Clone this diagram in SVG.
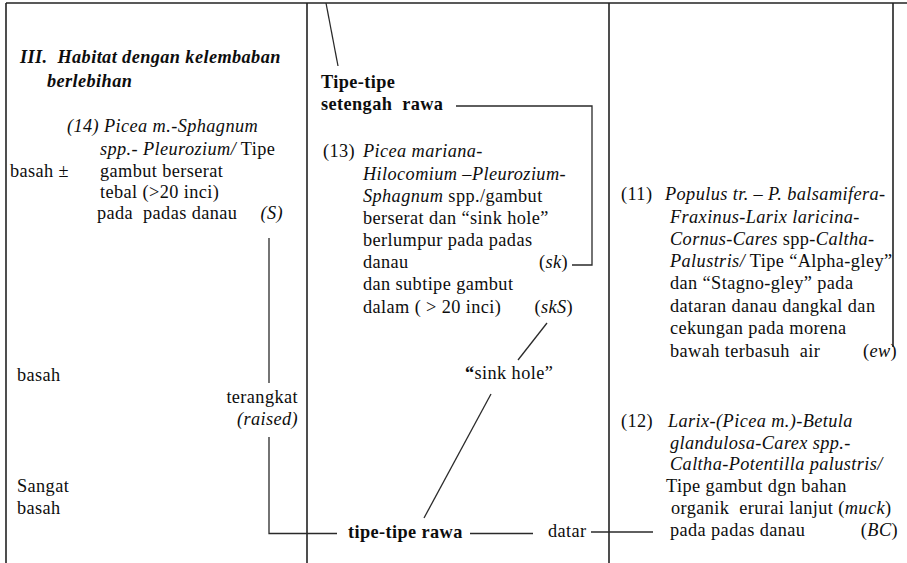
<svg xmlns="http://www.w3.org/2000/svg" width="907" height="563" viewBox="0 0 907 563">
  <style>
    .t { font-family: "Liberation Serif", "Times New Roman", serif; font-size: 18.3px; fill: #0d0d0d; letter-spacing: 0.4px; white-space: pre; }
    .i { font-style: italic; }
    .b { font-weight: bold; }
    .e { text-anchor: end; }
    .frame { stroke: #222; stroke-width: 1.6; fill: none; }
    .ln { stroke: #2a2a2a; stroke-width: 1.3; fill: none; }
  </style>
  <rect width="907" height="563" fill="#fff"/>

  <!-- table frame and column dividers -->
  <g id="frame">
    <line class="frame" x1="6" y1="3" x2="907" y2="3"/>
    <line class="frame" x1="6" y1="3" x2="6" y2="563"/>
    <line class="frame" x1="307" y1="3" x2="307" y2="563"/>
    <line class="frame" x1="609" y1="3" x2="609" y2="563"/>
    <line class="frame" x1="893" y1="3" x2="893" y2="347"/>
  </g>

  <!-- connectors -->
  <g id="connectors">
    <line class="ln" x1="326" y1="3" x2="338" y2="66"/>
    <polyline class="ln" points="456,106 592,106 592,265 572,265"/>
    <line class="ln" x1="269" y1="238" x2="269" y2="383"/>
    <polyline class="ln" points="269,437 269,533.5 337,533.5"/>
    <line class="ln" x1="470" y1="533.5" x2="533" y2="533.5"/>
    <line class="ln" x1="591" y1="532" x2="653" y2="532"/>
    <line class="ln" x1="547" y1="323" x2="518" y2="360"/>
    <line class="ln" x1="491" y1="394" x2="424" y2="518"/>
  </g>

  <!-- left column -->
  <g id="heading">
    <text class="t b i" x="20" y="63">III.  Habitat dengan kelembaban</text>
    <text class="t b i" x="47" y="87">berlebihan</text>
  </g>
  <g id="type-14">
    <text class="t i" x="67" y="132">(14) Picea m.-Sphagnum</text>
    <text class="t" x="100" y="155"><tspan class="i">spp.- Pleurozium/</tspan> Tipe</text>
    <text class="t" x="100" y="177">gambut berserat</text>
    <text class="t" x="100" y="198">tebal (&gt;20 inci)</text>
    <text class="t" x="97" y="219">pada  padas danau</text>
    <text class="t i e" x="283" y="219">(S)</text>
  </g>
  <g id="moisture">
    <text class="t" x="10" y="177">basah ±</text>
    <text class="t" x="17" y="381">basah</text>
    <text class="t" x="17" y="492">Sangat</text>
    <text class="t" x="17" y="514">basah</text>
  </g>
  <g id="raised">
    <text class="t e" x="298" y="403">terangkat</text>
    <text class="t i e" x="298" y="425">(raised)</text>
  </g>

  <!-- middle column -->
  <g id="semi-swamp">
    <text class="t b" x="321" y="88">Tipe-tipe</text>
    <text class="t b" x="321" y="110">setengah  rawa</text>
  </g>
  <g id="type-13">
    <text class="t" x="323" y="157">(13)</text>
    <text class="t i" x="363" y="157">Picea mariana-</text>
    <text class="t i" x="363" y="180">Hilocomium –Pleurozium-</text>
    <text class="t" x="363" y="202"><tspan class="i">Sphagnum</tspan> spp./gambut</text>
    <text class="t" x="363" y="224">berserat dan “sink hole”</text>
    <text class="t" x="363" y="246">berlumpur pada padas</text>
    <text class="t" x="363" y="268">danau</text>
    <text class="t e" x="568" y="268">(<tspan class="i">sk</tspan>)</text>
    <text class="t" x="363" y="290">dan subtipe gambut</text>
    <text class="t" x="363" y="313">dalam ( &gt; 20 inci)</text>
    <text class="t e" x="573" y="313">(<tspan class="i">skS</tspan>)</text>
  </g>
  <g id="sink-hole">
    <text class="t" x="465" y="379"><tspan class="b">“</tspan>sink hole”</text>
  </g>
  <g id="swamp">
    <text class="t b" x="348" y="538">tipe-tipe rawa</text>
  </g>
  <g id="flat">
    <text class="t" x="548" y="537">datar</text>
  </g>

  <!-- right column -->
  <g id="type-11">
    <text class="t" x="621" y="200">(11)</text>
    <text class="t i" x="665" y="200">Populus tr. – P. balsamifera-</text>
    <text class="t i" x="670" y="223">Fraxinus-Larix laricina-</text>
    <text class="t" x="670" y="245"><tspan class="i">Cornus-Cares</tspan> spp-<tspan class="i">Caltha-</tspan></text>
    <text class="t" x="670" y="267"><tspan class="i">Palustris/</tspan> Tipe “Alpha-gley”</text>
    <text class="t" x="670" y="289">dan “Stagno-gley” pada</text>
    <text class="t" x="670" y="312">dataran danau dangkal dan</text>
    <text class="t" x="670" y="334">cekungan pada morena</text>
    <text class="t" x="670" y="357">bawah terbasuh  air</text>
    <text class="t e" x="897" y="357">(<tspan class="i">ew</tspan>)</text>
  </g>
  <g id="type-12">
    <text class="t" x="621" y="427">(12)</text>
    <text class="t i" x="668" y="427">Larix-(Picea m.)-Betula</text>
    <text class="t i" x="670" y="449">glandulosa-Carex spp.-</text>
    <text class="t i" x="670" y="470">Caltha-Potentilla palustris/</text>
    <text class="t" x="666" y="492">Tipe gambut dgn bahan</text>
    <text class="t" x="671" y="514">organik  erurai lanjut (<tspan class="i">muck</tspan>)</text>
    <text class="t" x="670" y="536">pada padas danau</text>
    <text class="t e" x="898" y="536">(<tspan class="i">BC</tspan>)</text>
  </g>
</svg>
